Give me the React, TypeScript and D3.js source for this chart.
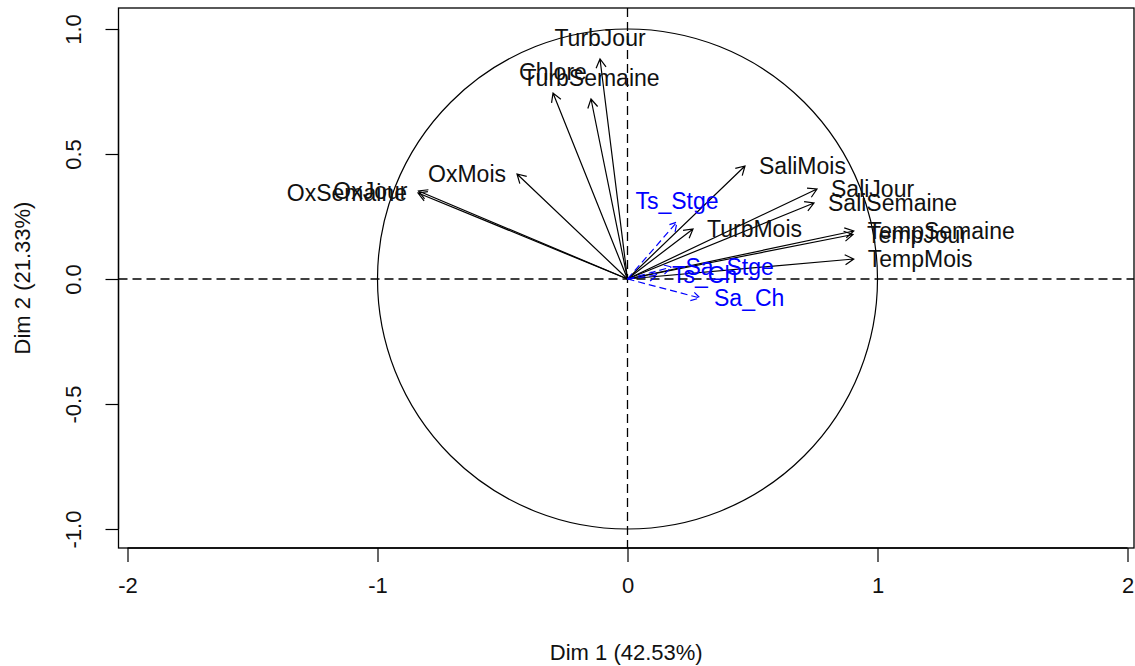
import React, { useEffect, useRef } from 'react';
import * as d3 from 'd3';

// active variables (coordinates on Dim 1 / Dim 2)
const activeNames = ['TurbJour', 'TurbSemaine', 'Chlore', 'OxMois', 'OxJour', 'OxSemaine', 'SaliMois', 'SaliJour', 'SaliSemaine', 'TurbMois', 'TempSemaine', 'TempJour', 'TempMois'];
const activeDim1 = [-0.11, -0.146, -0.298, -0.442, -0.836, -0.838, 0.47, 0.758, 0.746, 0.262, 0.905, 0.902, 0.905];
const activeDim2 = [0.88, 0.72, 0.744, 0.42, 0.352, 0.344, 0.452, 0.36, 0.304, 0.2, 0.192, 0.178, 0.08];

// supplementary variables
const suppNames = ['Ts_Stge', 'Sa_Stge', 'Ts_Ch', 'Sa_Ch'];
const suppDim1 = [0.198, 0.176, 0.122, 0.29];
const suppDim2 = [0.228, 0.048, 0.016, -0.076];

const xTicks = [-2, -1, 0, 1, 2];
const yTicks = [-1, -0.5, 0, 0.5, 1];
const yTickLabels = ['-1.0', '-0.5', '0.0', '0.5', '1.0'];
const xTitle = 'Dim 1 (42.53%)';
const yTitle = 'Dim 2 (21.33%)';

const W = 1135;
const H = 666;
const FONT = '"Liberation Sans", Arial, sans-serif';

export default function App() {
  const ref = useRef<SVGSVGElement>(null);

  useEffect(() => {
    const svg = d3.select(ref.current);
    svg.selectAll('*').remove();

    const left = 118.5, right = 1134, top = 8, bottom = 548;
    const unit = 250;
    const ox = 627.5, oy = 279;
    const x = d3.scaleLinear().domain([(left - ox) / unit, (right - ox) / unit]).range([left, right]);
    const y = d3.scaleLinear().domain([(oy - bottom) / unit, (oy - top) / unit]).range([bottom, top]);

    // box
    svg.append('rect').attr('x', left).attr('y', top).attr('width', right - left).attr('height', bottom - top)
      .attr('fill', 'none').attr('stroke', '#000').attr('stroke-width', 1.3);

    // axes
    const xa = svg.append('g').attr('transform', `translate(0,${bottom})`)
      .call(d3.axisBottom(x).tickValues(xTicks).tickSize(14).tickSizeOuter(0).tickPadding(20).tickFormat(d3.format('d')));
    xa.select('.domain').attr('d', `M${x(-2)},0H${x(2)}`).attr('stroke-width', 1.3);
    xa.selectAll('.tick line').attr('stroke-width', 1.2);
    xa.selectAll('text').attr('font-family', FONT).attr('font-size', 22).attr('fill', '#111')
      .attr('dy', '0.5em').text((d: any) => (d < 0 ? '-' + Math.abs(d) : String(d)));

    const ya = svg.append('g').attr('transform', `translate(${left},0)`)
      .call(d3.axisLeft(y).tickValues(yTicks).tickSize(13).tickSizeOuter(0).tickFormat((d, i) => yTickLabels[i]));
    ya.select('.domain').attr('d', `M0,${y(-1)}V${y(1)}`).attr('stroke-width', 1.3);
    ya.selectAll('.tick line').attr('stroke-width', 1.2);
    ya.selectAll('text').attr('font-family', FONT).attr('font-size', 22).attr('fill', '#111')
      .attr('x', 0).attr('dy', 0).attr('text-anchor', 'middle')
      .attr('transform', 'translate(-38,0) rotate(-90)');

    svg.append('text').attr('x', (left + right) / 2).attr('y', 652).attr('dy', '0.35em')
      .attr('text-anchor', 'middle').attr('font-family', FONT).attr('font-size', 22).attr('fill', '#111').text(xTitle);
    svg.append('text').attr('transform', `translate(22,${(top + bottom) / 2}) rotate(-90)`).attr('dy', '0.35em')
      .attr('text-anchor', 'middle').attr('font-family', FONT).attr('font-size', 22).attr('fill', '#111').text(yTitle);

    // reference lines and unit circle
    svg.append('line').attr('x1', left).attr('x2', right).attr('y1', y(0)).attr('y2', y(0))
      .attr('stroke', '#000').attr('stroke-width', 1.3).attr('stroke-dasharray', '9 5');
    svg.append('line').attr('x1', x(0)).attr('x2', x(0)).attr('y1', top).attr('y2', bottom)
      .attr('stroke', '#000').attr('stroke-width', 1.3).attr('stroke-dasharray', '9 5');
    svg.append('ellipse').attr('cx', x(0)).attr('cy', y(0)).attr('rx', x(1) - x(0)).attr('ry', y(0) - y(1))
      .attr('fill', 'none').attr('stroke', '#000').attr('stroke-width', 1.2);

    const drawVars = (names: string[], d1: number[], d2: number[], color: string, dash: string | null) => {
      const g = svg.append('g');
      names.forEach((name, i) => {
        const px = x(d1[i]), py = y(d2[i]);
        const ang = Math.atan2(py - y(0), px - x(0));
        const head = 10, spread = Math.PI / 6;
        const path = d3.path();
        path.moveTo(x(0), y(0));
        path.lineTo(px, py);
        path.moveTo(px - head * Math.cos(ang - spread), py - head * Math.sin(ang - spread));
        path.lineTo(px, py);
        path.lineTo(px - head * Math.cos(ang + spread), py - head * Math.sin(ang + spread));
        g.append('path').attr('d', path.toString()).attr('fill', 'none').attr('stroke', color)
          .attr('stroke-width', 1.2).attr('stroke-dasharray', dash);

        // label side as in R: chosen from the dominant coordinate
        const t = g.append('text').attr('font-family', FONT).attr('font-size', 23).attr('fill', color === '#000' ? '#111' : color).text(name);
        if (Math.abs(d1[i]) > Math.abs(d2[i])) {
          t.attr('x', d1[i] > 0 ? px + 14 : px - 11).attr('y', py).attr('dy', '0.35em')
            .attr('text-anchor', d1[i] > 0 ? 'start' : 'end');
        } else {
          t.attr('x', px).attr('y', d2[i] > 0 ? py - 13 : py + 28).attr('text-anchor', 'middle');
        }
      });
    };

    drawVars(activeNames, activeDim1, activeDim2, '#000', null);
    drawVars(suppNames, suppDim1, suppDim2, '#0000ff', '7 4');
  }, []);

  return (
    <svg ref={ref} width={W} height={H} style={{ position: 'absolute', left: 0, top: 0, background: '#fff' }} />
  );
}
